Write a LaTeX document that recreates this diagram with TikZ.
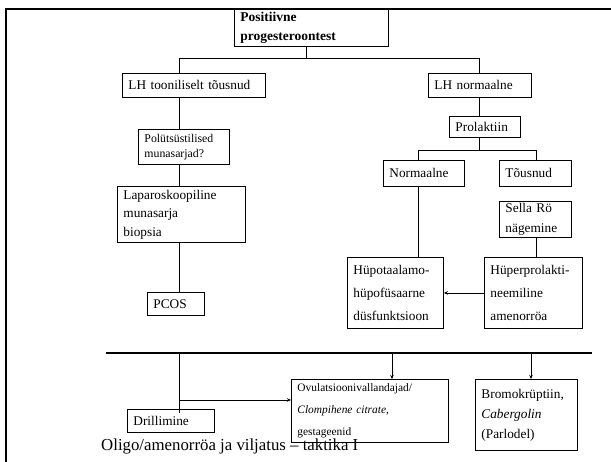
\documentclass[tikz,border=0pt]{standalone}
\usepackage{fontspec}
\setmainfont{Liberation Serif}
\usetikzlibrary{arrows.meta}
\tikzset{
  bx/.style={draw, line width=0.9pt, anchor=north west, inner xsep=6pt, inner ysep=0pt,
    align=left, font=\fontsize{13.3}{18.5}\selectfont},
  ln/.style={line width=0.8pt},
  arr/.style={line width=0.8pt, -{Stealth[length=4pt,width=3.5pt]}},
  thickline/.style={line width=2.3pt},
}
\begin{document}
\begin{tikzpicture}[x=1pt,y=-1pt]
\useasboundingbox (0,0) rectangle (611,462);
% frame
\draw[thickline] (6,462) -- (6,9) -- (611,9);
% boxes
\node[bx, font=\fontsize{13.5}{19}\selectfont\bfseries, text width=142pt, minimum height=37pt] (top) at (234,9) {Positiivne\\progesteroontest};
\node[bx, text width=131pt, minimum height=24pt] (lht) at (122,73) {LH tooniliselt tõusnud};
\node[bx, text width=91pt, minimum height=24pt] (lhn) at (428,73) {LH normaalne};
\node[bx, font=\fontsize{11.8}{14.5}\selectfont, text width=79pt, minimum height=35pt] (pol) at (138,129) {Polütsüstilised\\munasarjad?};
\node[bx, text width=116pt, minimum height=56pt] (lap) at (117,186) {Laparoskoopiline\\munasarja\\biopsia};
\node[bx, text width=45pt, minimum height=23pt] (pcos) at (147,292) {PCOS};
\node[bx, text width=59pt, minimum height=21pt] (prl) at (449,116) {Prolaktiin};
\node[bx, text width=69pt, minimum height=26pt] (nor) at (383,160) {Normaalne};
\node[bx, text width=60pt, minimum height=26pt] (tou) at (499,160) {Tõusnud};
\node[bx, font=\fontsize{13.3}{19.5}\selectfont, text width=60pt, minimum height=36pt] (sel) at (499,201) {Sella Rö\\nägemine};
\node[bx, font=\fontsize{13.3}{23}\selectfont, text width=84pt, minimum height=71pt] (hpo) at (347,257) {Hüpotaalamo-\\hüpofüsaarne\\düsfunktsioon};
\node[bx, font=\fontsize{13.3}{23}\selectfont, text width=86pt, minimum height=71pt] (hpr) at (484,257) {Hüperprolakti-\\neemiline\\amenorröa};
\node[bx, text width=75pt, minimum height=23pt] (dri) at (127,409) {Drillimine};
\node[bx, font=\fontsize{11.4}{22}\selectfont, text width=145pt, minimum height=63pt] (ovu) at (291,379) {Ovulatsioonivallandajad/\\\textit{Clompihene citrate},\\gestageenid};
\node[bx, font=\fontsize{13.3}{20}\selectfont, text width=90pt, minimum height=71pt] (bro) at (475,379) {Bromokrüptiin,\\\textit{Cabergolin}\\(Parlodel)};
\node[anchor=base west, inner sep=0pt, font=\fontsize{16.8}{20}\selectfont] (cap) at (101,450) {Oligo/amenorröa ja viljatus – taktika I};
% junctions
\coordinate (tx) at (306,58);
\coordinate (lx) at (179,58);
\coordinate (rx) at (479,58);
\coordinate (pj) at (479,150);
\coordinate (nj) at (418,150);
\coordinate (tj) at (536,150);
\coordinate (bl) at (106,353);
\coordinate (br) at (592,353);
\coordinate (dx) at (179,353);
\coordinate (dj) at (179,400);
\coordinate (ox) at (392,353);
\coordinate (bx2) at (531,353);
% connectors
\draw[ln] (top.south -| tx) -- (tx);
\draw[ln] (lx) -- (rx);
\draw[ln] (lx) -- (lx |- lht.north);
\draw[ln] (rx) -- (rx |- lhn.north);
\draw[ln] (lht.south -| lx) -- (pol.north -| lx);
\draw[ln] (pol.south -| lx) -- (lap.north -| lx);
\draw[ln] (lap.south -| lx) -- (pcos.north -| lx);
\draw[ln] (lhn.south -| rx) -- (prl.north -| rx);
\draw[ln] (prl.south -| pj) -- (pj);
\draw[ln] (nj) -- (tj);
\draw[ln] (nj) -- (nj |- nor.north);
\draw[ln] (tj) -- (tj |- tou.north);
\draw[ln] (nor.south -| nj) -- (hpo.north -| nj);
\draw[ln] (sel.south -| tj) -- (hpr.north -| tj);
\draw[arr] (hpr.west) -- (hpo.east);
% bottom bar
\draw[thickline] (bl) -- (br);
\draw[ln] (dx) -- ([yshift=-4pt]dri.north -| dx);
\draw[arr] (dj) -- (ovu.west |- dj);
\draw[arr] (ox) -- (ovu.north -| ox);
\draw[arr] (bx2) -- (bro.north -| bx2);
\end{tikzpicture}
\end{document}
